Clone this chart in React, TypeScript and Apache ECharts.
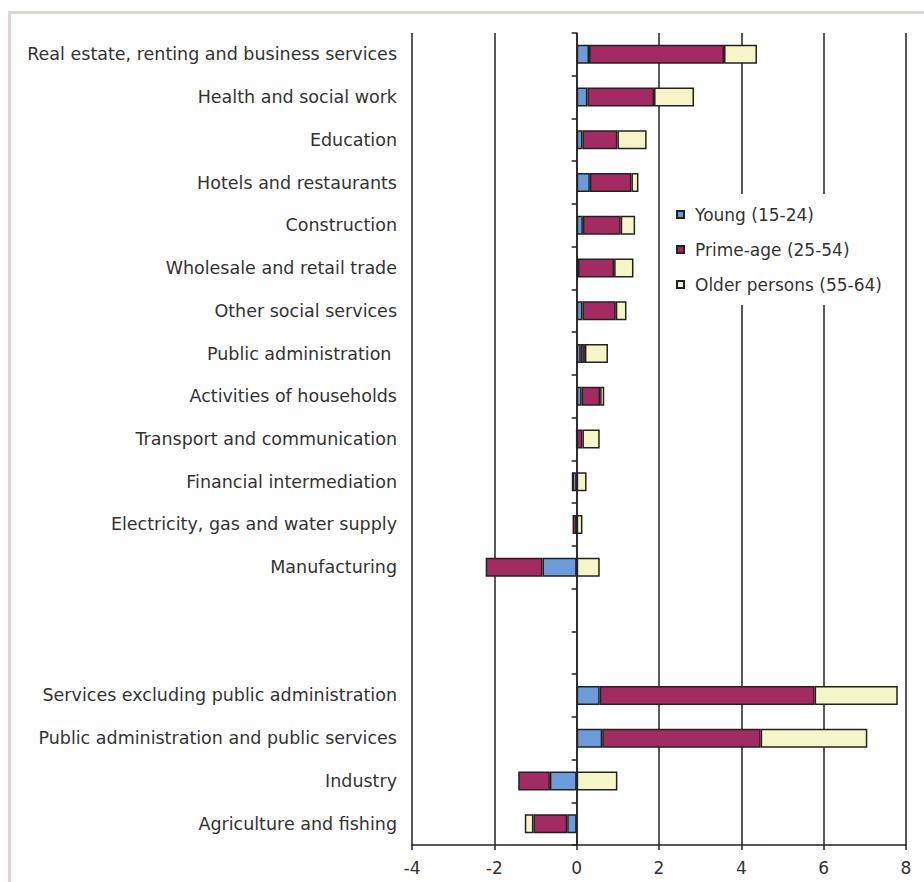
import React, { useEffect, useRef } from "react";
import * as echarts from "echarts";

const categories = [
  "Real estate, renting and business services",
  "Health and social work",
  "Education",
  "Hotels and restaurants",
  "Construction",
  "Wholesale and retail trade",
  "Other social services",
  "Public administration ",
  "Activities of households",
  "Transport and communication",
  "Financial intermediation",
  "Electricity, gas and water supply",
  "Manufacturing",
  " ",
  "  ",
  "Services excluding public administration",
  "Public administration and public services",
  "Industry",
  "Agriculture and fishing",
];

const young = [0.30, 0.26, 0.14, 0.32, 0.15, 0.03, 0.14, 0.10, 0.12, 0.0, -0.10, 0.0, -0.83, null, null, 0.56, 0.62, -0.65, -0.23];
const primeAge = [3.28, 1.62, 0.85, 1.01, 0.92, 0.88, 0.81, 0.10, 0.45, 0.14, 0.0, -0.10, -1.38, null, null, 5.22, 3.85, -0.77, -0.82];
const older = [0.80, 0.97, 0.71, 0.17, 0.35, 0.47, 0.26, 0.56, 0.10, 0.42, 0.24, 0.14, 0.56, null, null, 2.02, 2.59, 0.99, -0.21];

const seriesNames = ["Young (15-24)", "Prime-age (25-54)", "Older persons (55-64)"];
const seriesColors = ["#6b9bd9", "#a42a62", "#f5f5c8"];

const FONT = "DejaVu Sans";

export default function App() {
  const ref = useRef<HTMLDivElement>(null);
  useEffect(() => {
    if (!ref.current) return;
    const chart = echarts.init(ref.current, undefined, { renderer: "svg" });
    const data = [young, primeAge, older];
    chart.setOption({
      animation: false,
      backgroundColor: "#ffffff",
      graphic: [
        {
          type: "rect",
          shape: { x: 9.5, y: 12.5, width: 1000, height: 1000 },
          style: { fill: "none", stroke: "#ddd6d2", lineWidth: 3 },
          silent: true,
          z: -1,
        },
      ],
      grid: { left: 412, right: 18, top: 33, bottom: 37, containLabel: false },
      legend: {
        orient: "vertical",
        left: 668,
        top: 194,
        padding: [12, 12, 12, 8],
        backgroundColor: "#ffffff",
        itemWidth: 7,
        itemHeight: 7,
        itemGap: 18,
        icon: "rect",
        data: seriesNames,
        textStyle: { fontFamily: FONT, fontSize: 17, color: "#333", padding: [0, 0, 0, 6] },
        z: 10,
      },
      xAxis: {
        type: "value",
        min: -4,
        max: 8,
        interval: 2,
        axisLine: { show: true, onZero: false, lineStyle: { color: "#222", width: 1.5 } },
        axisTick: { show: true, length: 5, lineStyle: { color: "#222", width: 1.5 } },
        axisLabel: { fontFamily: FONT, fontSize: 17, color: "#333", margin: 14 },
        splitLine: { show: true, lineStyle: { color: "#222", width: 1.5 } },
      },
      yAxis: [
        {
          type: "category",
          data: categories,
          inverse: true,
          position: "left",
          axisLine: { show: false, onZero: false },
          axisTick: { show: false },
          axisLabel: { fontFamily: FONT, fontSize: 17.5, color: "#333", margin: 15 },
          splitLine: { show: false },
        },
        {
          type: "category",
          data: categories,
          inverse: true,
          position: "left",
          axisLine: { show: true, onZero: true, lineStyle: { color: "#222", width: 1.5 } },
          axisTick: { show: true, length: 5, lineStyle: { color: "#222", width: 1.5 } },
          axisLabel: { show: false },
          splitLine: { show: false },
        },
      ],
      series: seriesNames.map((name, i) => ({
        name,
        type: "bar",
        stack: "total",
        yAxisIndex: 0,
        barWidth: 19,
        data: data[i],
        itemStyle: { color: seriesColors[i], borderColor: "#222", borderWidth: 1.5 },
        z: 3,
      })),
    });
    return () => chart.dispose();
  }, []);
  return (
    <div
      ref={ref}
      style={{ position: "fixed", left: 0, top: 0, width: 924, height: 882 }}
    />
  );
}
